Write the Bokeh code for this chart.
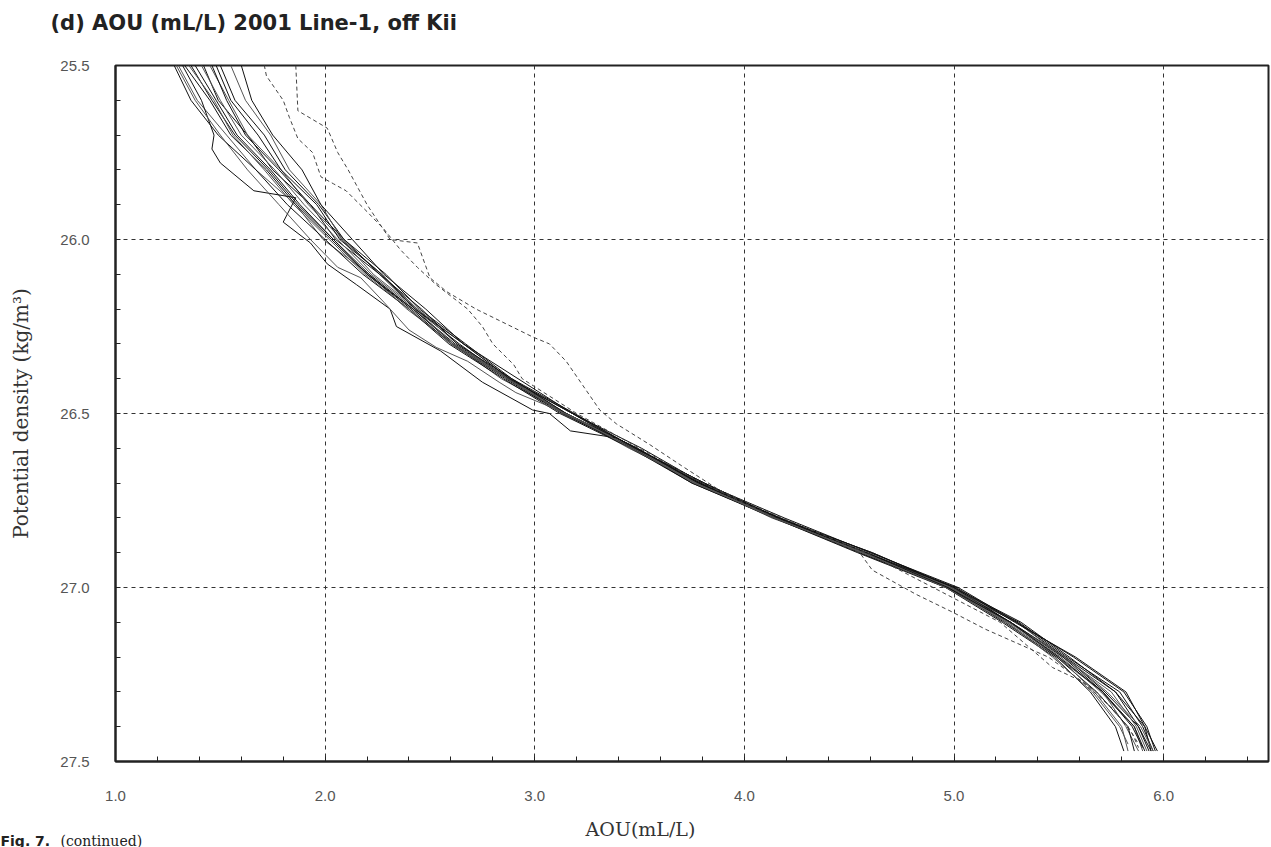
from bokeh.plotting import figure
from bokeh.layouts import column
from bokeh.models import Range1d, FixedTicker, PrintfTickFormatter, ColumnDataSource
from bokeh.core.properties import value
from bokeh.embed import file_html
from bokeh.resources import INLINE

# ---------------- data ----------------
sigma_grid = [25.5, 25.6, 25.7, 25.8, 25.9, 26.0, 26.1, 26.2, 26.3, 26.4, 26.5,
              26.6, 26.7, 26.8, 26.9, 27.0, 27.1, 27.2, 27.3, 27.4, 27.47]

profile_01 = [1.30, 1.39, 1.53, 1.67, 1.86, 1.99, 2.21, 2.39, 2.61, 2.84, 3.15, 3.45, 3.78, 4.13, 4.58, 4.96, 5.27, 5.49, 5.71, 5.82, 5.88]
profile_02 = [1.36, 1.46, 1.57, 1.73, 1.87, 2.04, 2.21, 2.42, 2.62, 2.88, 3.15, 3.49, 3.78, 4.17, 4.58, 5.00, 5.27, 5.53, 5.72, 5.88, 5.93]
profile_03 = [1.42, 1.49, 1.63, 1.75, 1.93, 2.05, 2.26, 2.43, 2.64, 2.87, 3.18, 3.46, 3.79, 4.14, 4.58, 4.97, 5.30, 5.53, 5.77, 5.88, 5.94]
profile_04 = [1.45, 1.54, 1.63, 1.79, 1.92, 2.08, 2.23, 2.44, 2.63, 2.87, 3.14, 3.47, 3.76, 4.14, 4.55, 4.98, 5.26, 5.51, 5.70, 5.86, 5.90]
profile_05 = [1.50, 1.57, 1.71, 1.81, 1.97, 2.09, 2.29, 2.45, 2.67, 2.89, 3.19, 3.48, 3.81, 4.16, 4.61, 4.99, 5.31, 5.54, 5.79, 5.90, 5.95]
profile_06 = [1.38, 1.48, 1.58, 1.74, 1.88, 2.04, 2.20, 2.41, 2.60, 2.86, 3.13, 3.47, 3.75, 4.15, 4.55, 4.97, 5.24, 5.49, 5.68, 5.83, 5.86]
profile_07 = [1.55, 1.62, 1.74, 1.83, 1.98, 2.08, 2.27, 2.44, 2.66, 2.88, 3.18, 3.47, 3.80, 4.15, 4.59, 4.98, 5.30, 5.52, 5.75, 5.87, 5.92]
profile_08 = [1.33, 1.45, 1.55, 1.72, 1.86, 2.03, 2.20, 2.42, 2.61, 2.87, 3.14, 3.48, 3.77, 4.16, 4.57, 4.99, 5.27, 5.52, 5.71, 5.86, 5.91]
profile_09 = [1.60, 1.65, 1.75, 1.89, 1.98, 2.13, 2.28, 2.48, 2.66, 2.92, 3.18, 3.51, 3.80, 4.19, 4.60, 5.02, 5.30, 5.57, 5.81, 5.92, 5.96]
profile_10 = [1.41, 1.50, 1.60, 1.76, 1.90, 2.06, 2.22, 2.43, 2.61, 2.88, 3.15, 3.48, 3.77, 4.16, 4.56, 4.98, 5.25, 5.50, 5.67, 5.80, 5.83]
profile_11 = [1.28, 1.36, 1.49, 1.67, 1.82, 2.00, 2.18, 2.40, 2.59, 2.85, 3.12, 3.46, 3.75, 4.14, 4.54, 4.96, 5.23, 5.48, 5.65, 5.77, 5.81]
profile_12 = [1.46, 1.53, 1.62, 1.78, 1.93, 2.09, 2.26, 2.46, 2.63, 2.89, 3.15, 3.49, 3.78, 4.17, 4.58, 5.01, 5.29, 5.58, 5.82, 5.91, 5.94]
profile_13 = [1.35, 1.47, 1.56, 1.71, 1.85, 2.02, 2.19, 2.40, 2.60, 2.87, 3.14, 3.48, 3.76, 4.15, 4.56, 4.99, 5.26, 5.53, 5.73, 5.89, 5.95]
profile_14 = [1.48, 1.55, 1.68, 1.79, 1.96, 2.07, 2.27, 2.43, 2.66, 2.88, 3.18, 3.48, 3.81, 4.16, 4.61, 5.00, 5.32, 5.55, 5.77, 5.91, 5.97]

# solid profiles that leave the main bundle
outlier_a_sigma = [25.40, 25.50, 25.60, 25.70, 25.74, 25.78, 25.86, 25.88, 25.95, 26.01, 26.07, 26.13, 26.20, 26.25,
                   26.32, 26.41, 26.49, 26.50, 26.55, 26.57, 26.70, 26.80, 26.90, 27.00, 27.10, 27.20, 27.30, 27.40, 27.46]
outlier_a_aou = [1.25, 1.32, 1.41, 1.47, 1.46, 1.50, 1.66, 1.86, 1.80, 1.93, 2.01, 2.15, 2.31, 2.34,
                 2.55, 2.75, 2.99, 3.07, 3.17, 3.39, 3.79, 4.16, 4.58, 4.97, 5.27, 5.50, 5.71, 5.85, 5.90]
outlier_b_sigma = [25.40, 25.50, 25.60, 25.70, 25.80, 25.90, 26.00, 26.08, 26.11, 26.18, 26.26, 26.31, 26.35, 26.41,
                   26.44, 26.48, 26.52, 26.60, 26.70, 26.80, 26.90, 27.00, 27.10, 27.20, 27.30, 27.40, 27.45]
outlier_b_aou = [1.22, 1.29, 1.38, 1.50, 1.63, 1.78, 1.93, 2.06, 2.17, 2.28, 2.40, 2.53, 2.68, 2.83,
                 2.91, 3.07, 3.22, 3.46, 3.77, 4.14, 4.57, 4.96, 5.25, 5.47, 5.66, 5.79, 5.83]

# dashed profiles
dashed_a_sigma = [25.40, 25.50, 25.53, 25.60, 25.65, 25.71, 25.75, 25.82, 25.84, 25.86, 25.92, 25.97, 26.03, 26.08,
                  26.13, 26.20, 26.25, 26.30, 26.36, 26.40, 26.50, 26.60, 26.70, 26.80, 26.90, 26.95, 27.02, 27.07,
                  27.12, 27.20, 27.30, 27.40, 27.45]
dashed_a_aou = [1.68, 1.71, 1.72, 1.80, 1.83, 1.87, 1.94, 1.98, 2.04, 2.10, 2.20, 2.28, 2.36, 2.44,
                2.53, 2.68, 2.75, 2.80, 2.90, 2.94, 3.20, 3.50, 3.80, 4.15, 4.55, 4.61, 4.82, 4.99,
                5.15, 5.45, 5.68, 5.83, 5.88]
dashed_b_sigma = [25.40, 25.50, 25.63, 25.68, 25.75, 25.80, 25.90, 26.00, 26.01, 26.11, 26.15, 26.20, 26.28, 26.30,
                  26.35, 26.42, 26.49, 26.53, 26.59, 26.65, 26.72, 26.80, 26.90, 27.00, 27.10, 27.23, 27.27, 27.35,
                  27.42, 27.46]
dashed_b_aou = [1.85, 1.86, 1.87, 2.01, 2.06, 2.11, 2.20, 2.31, 2.44, 2.50, 2.58, 2.72, 2.99, 3.07,
                3.15, 3.23, 3.31, 3.39, 3.55, 3.70, 3.88, 4.18, 4.58, 4.90, 5.22, 5.47, 5.61, 5.76,
                5.85, 5.88]

x_major = [1.0, 2.0, 3.0, 4.0, 5.0, 6.0]
x_minor = [1.2, 1.4, 1.6, 1.8, 2.2, 2.4, 2.6, 2.8, 3.2, 3.4, 3.6, 3.8, 4.2, 4.4, 4.6, 4.8,
           5.2, 5.4, 5.6, 5.8, 6.2, 6.4]
y_major = [25.5, 26.0, 26.5, 27.0, 27.5]
y_minor = [25.6, 25.7, 25.8, 25.9, 26.1, 26.2, 26.3, 26.4, 26.6, 26.7, 26.8, 26.9,
           27.1, 27.2, 27.3, 27.4]

title_text = "(d) AOU (mL/L) 2001 Line-1, off Kii"
x_label = "AOU(mL/L)"
y_label = "Potential density (kg/m\u00b3)"
caption_bold = "Fig. 7."
caption_rest = "(continued)"

W = 1271
HEAD_H = 40
FOOT_H = 35
MAIN_H = 847 - HEAD_H - FOOT_H


def text_strip(h):
    f = figure(width=W, height=h, output_backend="svg", toolbar_location=None,
               x_range=Range1d(0, W), y_range=Range1d(h, 0),
               x_axis_type=None, y_axis_type=None, min_border=0, frame_align=False)
    f.outline_line_color = None
    f.background_fill_color = "white"
    f.border_fill_color = "white"
    return f


# ---------------- header (title) ----------------
head = text_strip(HEAD_H)
head.text(x=[50], y=[22], text=[title_text], text_align="left", text_baseline="middle",
          text_font=value("DejaVu Sans"), text_font_style="bold", text_font_size="21px",
          text_color="#222222")

# ---------------- main plot ----------------
p = figure(width=W, height=MAIN_H, output_backend="svg", toolbar_location=None,
           x_range=Range1d(1.0, 6.5), y_range=Range1d(27.5, 25.5),
           min_border_left=115, min_border_right=3, min_border_top=65 - HEAD_H,
           min_border_bottom=MAIN_H - (761 - HEAD_H), frame_align=False)
p.background_fill_color = "white"
p.border_fill_color = "white"
p.outline_line_color = "#222222"
p.outline_line_width = 2

bundle = [profile_01, profile_02, profile_03, profile_04, profile_05, profile_06, profile_07,
          profile_08, profile_09, profile_10, profile_11, profile_12, profile_13, profile_14]
solid_xs = bundle + [outlier_a_aou, outlier_b_aou]
solid_ys = [sigma_grid] * len(bundle) + [outlier_a_sigma, outlier_b_sigma]
solid_colors = ["#111111" if i % 3 else "#555555" for i in range(len(solid_xs))]
solid_src = ColumnDataSource(dict(xs=solid_xs, ys=solid_ys, color=solid_colors))
p.multi_line("xs", "ys", source=solid_src, line_color="color", line_width=1)

dash_src = ColumnDataSource(dict(xs=[dashed_a_aou, dashed_b_aou], ys=[dashed_a_sigma, dashed_b_sigma]))
p.multi_line("xs", "ys", source=dash_src, line_color="#444444", line_width=1, line_dash="4 3")

for g, maj in ((p.xgrid, x_major), (p.ygrid, y_major)):
    g.ticker = FixedTicker(ticks=maj)
    g.grid_line_color = "#333333"
    g.grid_line_dash = "4 4"
    g.grid_line_width = 1

p.xaxis.ticker = FixedTicker(ticks=x_major, minor_ticks=x_minor)
p.yaxis.ticker = FixedTicker(ticks=y_major, minor_ticks=y_minor)
for ax in (p.xaxis[0], p.yaxis[0]):
    ax.formatter = PrintfTickFormatter(format="%.1f")
    ax.axis_line_color = "#222222"
    ax.axis_line_width = 2
    ax.major_tick_in = 5
    ax.major_tick_out = 0
    ax.minor_tick_in = 5
    ax.minor_tick_out = 0
    ax.major_tick_line_color = "#222222"
    ax.minor_tick_line_color = "#222222"
    ax.major_label_text_font = "Liberation Sans"
    ax.major_label_text_font_size = "15px"
    ax.major_label_text_color = "#555555"
p.xaxis.major_label_standoff = 29
p.yaxis.major_label_standoff = 26

p.yaxis.axis_label = y_label
p.yaxis.axis_label_text_font = "DejaVu Serif"
p.yaxis.axis_label_text_font_style = "normal"
p.yaxis.axis_label_text_font_size = "20px"
p.yaxis.axis_label_text_color = "#333333"
p.yaxis.axis_label_standoff = 24

# ---------------- footer (x label and caption) ----------------
foot = text_strip(FOOT_H)
foot.text(x=[640], y=[16], text=[x_label], text_align="center", text_baseline="middle",
          text_font=value("DejaVu Serif"), text_font_size="19px", text_color="#333333")
foot.text(x=[0], y=[20], text=[caption_bold], text_align="left", text_baseline="top",
          text_font=value("DejaVu Sans"), text_font_style="bold", text_font_size="14px",
          text_color="#222222")
foot.text(x=[60], y=[20], text=[caption_rest], text_align="left", text_baseline="top",
          text_font=value("DejaVu Serif"), text_font_size="14px", text_color="#222222")

layout = column(head, p, foot, spacing=0)
open("out.html", "w").write(file_html(layout, INLINE))
